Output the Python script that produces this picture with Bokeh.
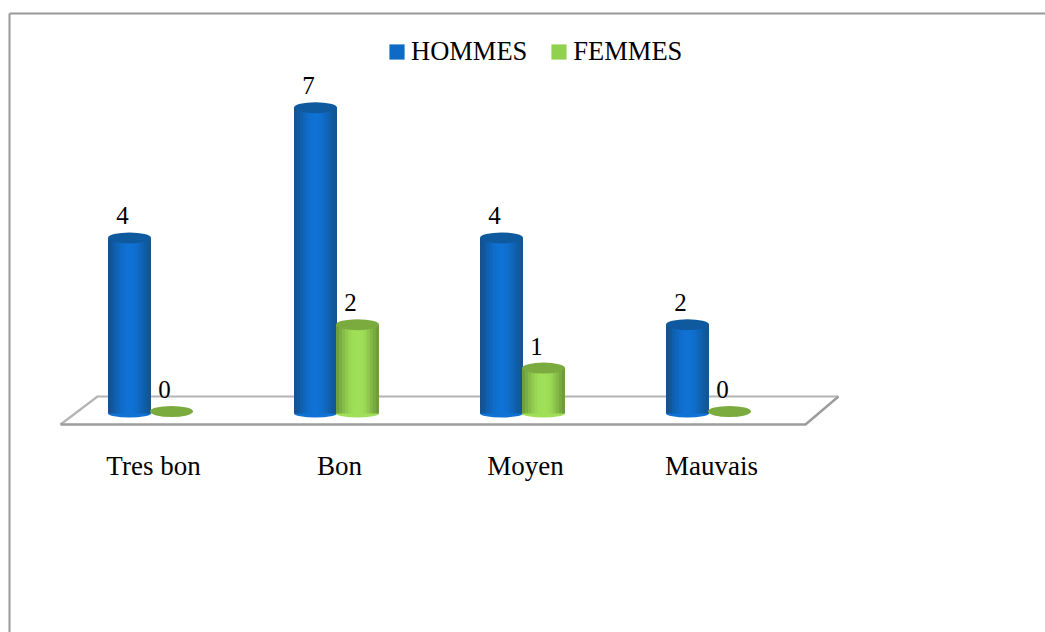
from bokeh.plotting import figure
from bokeh.embed import file_html
from bokeh.resources import INLINE
from bokeh.models import Range1d, FixedTicker, Legend, LegendItem, ColumnDataSource
from bokeh.core.properties import value

# ---- data
categories = ["Tres bon", "Bon", "Moyen", "Mauvais"]
hommes = [4, 7, 4, 2]
femmes = [0, 2, 1, 0]
series_names = ["HOMMES", "FEMMES"]

# ---- scale: one category = 186 px, one unit = 43.4 px
W, H = 1045, 632
PX_X, PX_Y = 186.0, 43.4
X0, Y0 = 150.5, 411.0  # where category 0 / value 0 land on the page
def dx(px): return px / PX_X
def dy(px): return px / PX_Y
def X(page_px): return (page_px - X0) / PX_X
def Y(page_px): return (Y0 - page_px) / PX_Y

p = figure(width=W, height=H, output_backend="svg", toolbar_location=None,
           x_range=Range1d(X(0), X(W)), y_range=Range1d(Y(H), Y(0)),
           y_axis_location=None, min_border=0, outline_line_color=None)
p.grid.visible = False
p.background_fill_color = "white"

FONT = "Liberation Serif"
BAR_W = dx(43)
E_H = dy(11)

# frame and floor
FRAME = "#999999"
p.line([X(9), X(9)], [Y(H), Y(13)], line_color=FRAME, line_width=2)
p.line([X(9), X(W)], [Y(13), Y(13)], line_color=FRAME, line_width=2)
p.line([X(60), X(97), X(838)], [Y(424), Y(396), Y(396)], line_color="#B4B4B4", line_width=2.2)
p.line([X(60), X(805), X(838)], [Y(424), Y(424), Y(396)], line_color="#9C9C9C", line_width=2.4)

SHADES = {
    "blue": ["#15528F", "#10589F", "#0F60AE", "#0F67BC", "#0F6CC8", "#1070D0", "#1072D4",
             "#1072D4", "#1070D0", "#0F6CC8", "#0F66BA", "#0F60AD", "#105AA0", "#16558F"],
    "green": ["#6F9F3C", "#7BAE42", "#86BC48", "#90CA4E", "#98D653", "#9DDD57", "#A0E058",
              "#A0E058", "#9DDD57", "#98D653", "#8FC84D", "#84B947", "#79AA41", "#6F9C3D"],
}
TOPS = {"blue": "#0F5A9E", "green": "#7BAB3E"}
SWATCH = {"blue": "#0F6AC6", "green": "#92D050"}

legend_items = []
for name, values, key, off, shift in [(series_names[0], hommes, "blue", -0.5, 0.0),
                                      (series_names[1], femmes, "green", 0.5, dx(-1.0))]:
    xs = [i + off * BAR_W + shift for i in range(len(values))]
    src = ColumnDataSource(dict(x=xs, v=values, lab=[str(v) for v in values],
                                cat=categories))
    base = p.vbar(x="x", top="v", bottom=0, width=BAR_W, source=src,
                  fill_color=SWATCH[key], line_color=None)
    legend_items.append(LegendItem(label=name, renderers=[base]))
    # rounded foot, flatter than the cap
    foot = [(x, v) for x, v in zip(xs, values) if v > 0]
    p.ellipse([f[0] for f in foot], [-dy(2)] * len(foot), width=BAR_W, height=dy(8),
              fill_color=SHADES[key][6], line_color=None)
    # cylinder shading
    shades = SHADES[key]
    n = len(shades)
    bottoms = [-dy(2) if v > 0 else 0 for v in values]
    for j, col in enumerate(shades):
        left = [x - BAR_W / 2 + BAR_W * j / n for x in xs]
        right = [x - BAR_W / 2 + BAR_W * (j + 1) / n + (dx(0.4) if j < n - 1 else 0) for x in xs]
        p.quad(left=left, right=right, bottom=bottoms, top=values,
               fill_color=col, line_color=None)
    # top cap
    p.ellipse("x", "v", width=BAR_W, height=E_H, source=src,
              fill_color=TOPS[key], line_color=None)
    # data labels
    p.text("x", "v", text="lab", source=src, x_offset=-7, y_offset=-22,
           text_font=value(FONT), text_font_size="25px", text_color="black",
           text_align="center", text_baseline="alphabetic")

legend = Legend(items=legend_items, orientation="horizontal",
                location=(387, 565), padding=0, margin=0, spacing=22,
                glyph_width=19, glyph_height=19, label_standoff=5,
                label_text_font=FONT, label_text_font_size="26.5px",
                label_text_color="black", label_height=26,
                background_fill_alpha=0, border_line_color=None)
p.add_layout(legend)

ax = p.xaxis[0]
ticks = [i + dx(2.5) for i in range(len(categories))]
ax.ticker = FixedTicker(ticks=ticks)
ax.major_label_overrides = dict(zip(ticks, categories))
ax.axis_line_color = None
ax.major_tick_line_color = None
ax.minor_tick_line_color = None
ax.major_label_standoff = 0
ax.major_label_text_font = FONT
ax.major_label_text_font_size = "27px"
ax.major_label_text_color = "black"
ax.fixed_location = Y(444)

open("out.html", "w").write(file_html(p, INLINE))
